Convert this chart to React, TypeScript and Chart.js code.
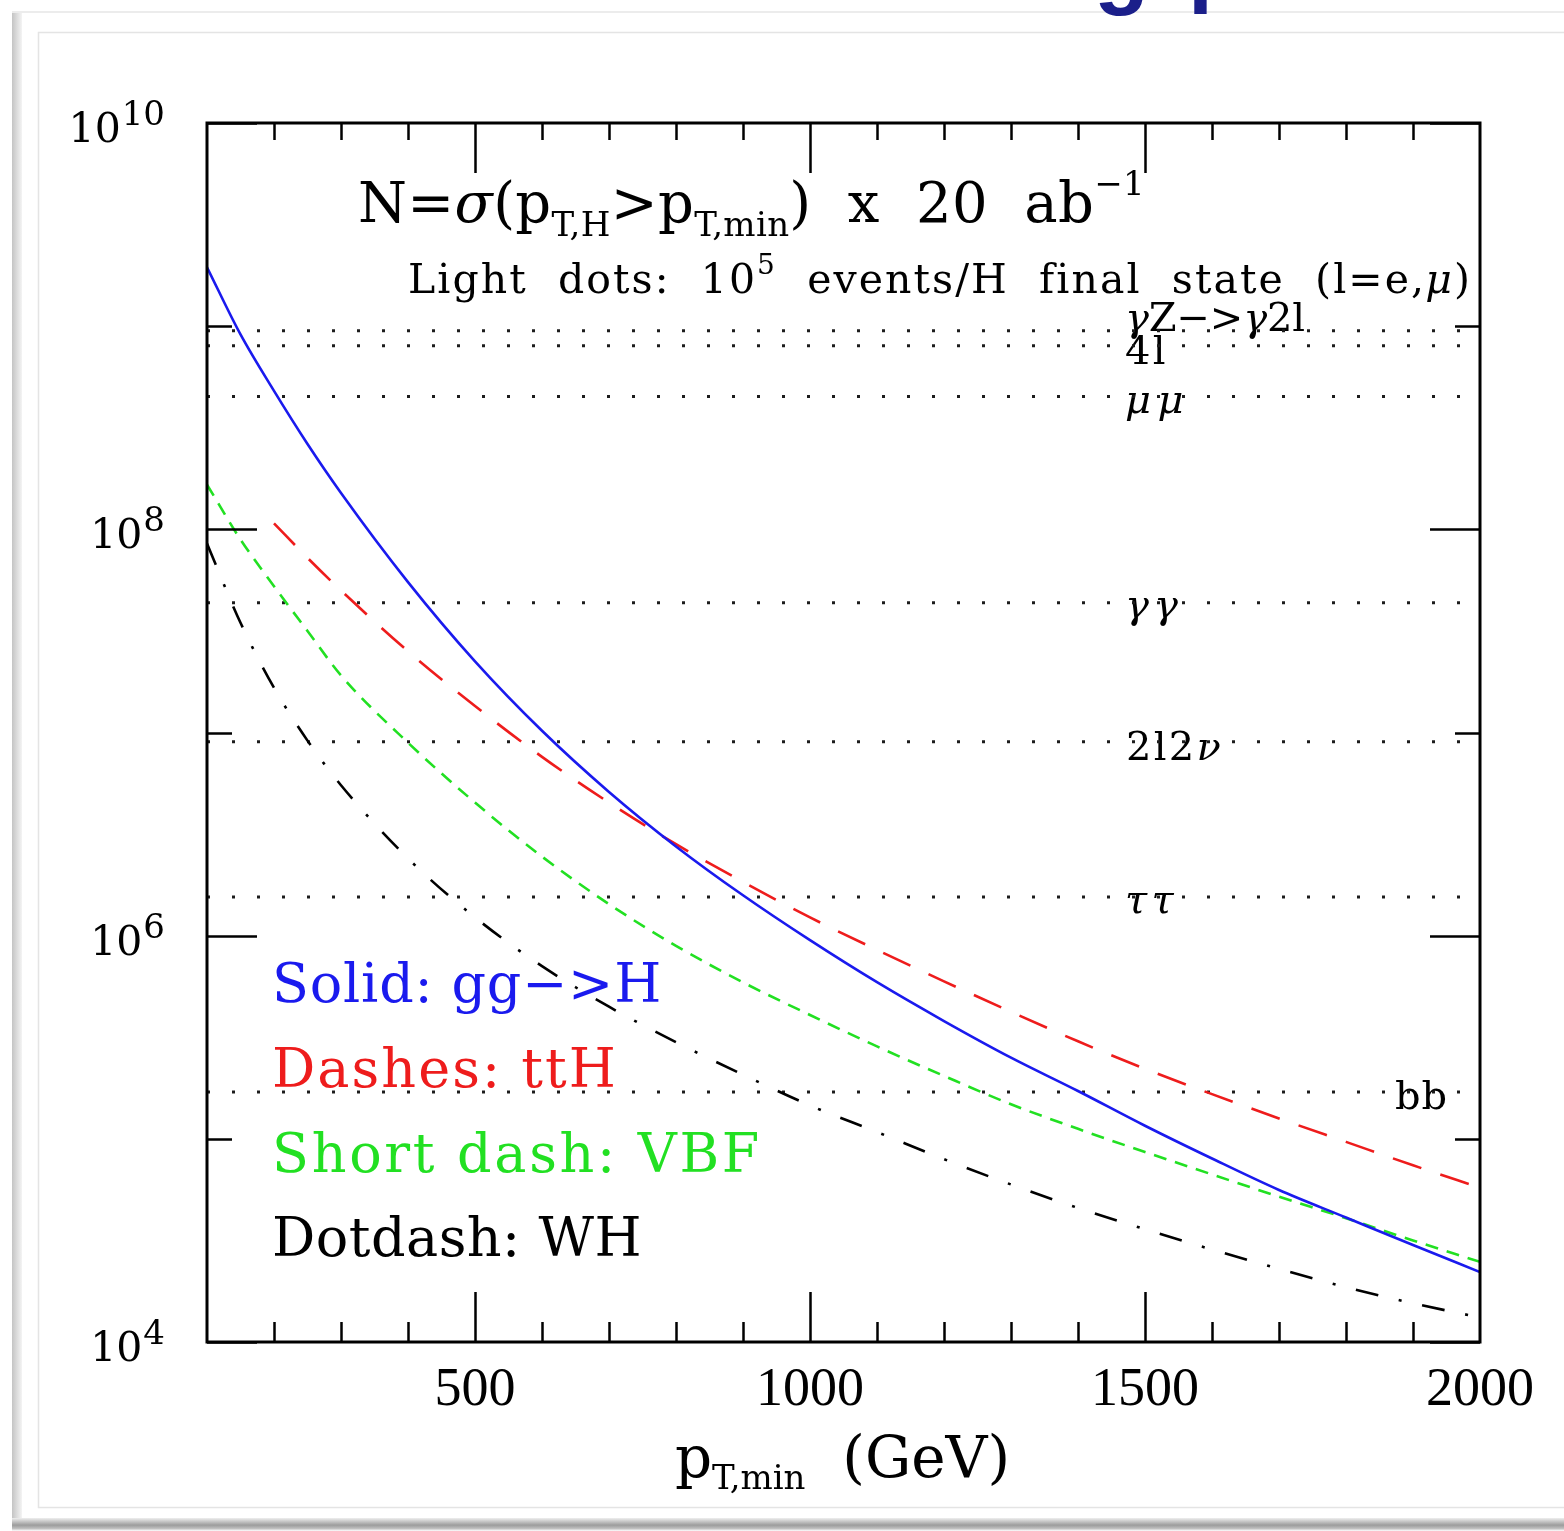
import React, { useEffect, useRef } from 'react';
import { Chart, registerables } from 'chart.js';
Chart.register(...registerables);

// ---------------- data ----------------
const pT = [100, 150, 200, 250, 300, 400, 500, 600, 700, 800, 900, 1000, 1100, 1200, 1300, 1400, 1500, 1600, 1700, 1800, 1900, 2000];
const ggH = [1.95e9, 9.1e8, 4.8e8, 2.63e8, 1.51e8, 5.5e7, 2.24e7, 1.02e7, 5.1e6, 2.75e6, 1.58e6, 9.5e5, 5.9e5, 3.8e5, 2.51e5, 1.72e5, 1.16e5, 8.0e4, 5.6e4, 4.1e4, 3.0e4, 2.21e4];
const ttH = [null, null, 1.07e8, 7.24e7, 5.0e7, 2.51e7, 1.35e7, 7.59e6, 4.52e6, 2.82e6, 1.84e6, 1.23e6, 8.51e5, 5.96e5, 4.22e5, 3.02e5, 2.21e5, 1.66e5, 1.26e5, 9.66e4, 7.41e4, 5.75e4];
const VBF = [1.66e8, 8.91e7, 5.25e7, 3.16e7, 1.91e7, 8.91e6, 4.52e6, 2.45e6, 1.43e6, 8.91e5, 5.89e5, 4.07e5, 2.85e5, 2.04e5, 1.48e5, 1.12e5, 8.61e4, 6.68e4, 5.19e4, 4.07e4, 3.16e4, 2.48e4];
const WH = [8.51e7, 3.47e7, 1.66e7, 9.12e6, 5.5e6, 2.4e6, 1.23e6, 7.08e5, 4.47e5, 2.99e5, 2.07e5, 1.46e5, 1.08e5, 7.94e4, 5.96e4, 4.57e4, 3.59e4, 2.85e4, 2.29e4, 1.86e4, 1.55e4, 1.32e4];

const legendTexts = ['Solid: gg−>H', 'Dashes: ttH', 'Short dash: VBF', 'Dotdash: WH'];

const decayLabels = ['γZ−>γ2l', '4l', 'μμ', 'γγ', '2l2ν', 'ττ', 'bb'];
const decayLevels = [9.5e8, 8.0e8, 4.5e8, 4.35e7, 9.0e6, 1.55e6, 1.7e5];

const xMajorTicks = [500, 1000, 1500, 2000];
const xTickLabels = ['500', '1000', '1500', '2000'];
const yMajorExp = ['4', '6', '8', '10'];
const yMinorExp = ['5', '7', '9'];

// ---------------- styles ----------------
const BLUE = '#1a1aee';
const RED = '#ee1c1c';
const GREEN = '#22e022';
const BLACK = '#000000';
const SERIF = '"DejaVu Serif", serif';
const TIMES = '"Liberation Serif", serif';
const font = (px: number, it = false) => `${it ? 'italic ' : ''}${px}px ${SERIF}`;

// label layout (x position, baseline offset from its line, width)
const decayLabelX = [1125, 1125, 1125, 1125, 1126, 1125, 1395];
const decayLabelDy = [0, 18, 16, 15, 18, 16, 17];
const decayLabelW = [180, 43, 65, 58, 97, 53, 53];

type Seg = { t: string; f: string; dy?: number; c?: string };

function drawSegs(ctx: CanvasRenderingContext2D, segs: Seg[], x: number, y: number, target?: number, color = '#000') {
  ctx.save();
  ctx.textAlign = 'left';
  ctx.textBaseline = 'alphabetic';
  const a = ctx as any;
  const hasLS = 'letterSpacing' in a;
  if (hasLS) a.letterSpacing = '0px';
  let nat = 0;
  let n = 0;
  const widths = segs.map((s) => {
    ctx.font = s.f;
    const w = ctx.measureText(s.t).width;
    nat += w;
    n += [...s.t].length;
    return w;
  });
  let ls = 0;
  if (target && n > 0) ls = (target - nat) / n;
  let cx = x;
  segs.forEach((s, i) => {
    ctx.font = s.f;
    ctx.fillStyle = s.c || color;
    if (hasLS) a.letterSpacing = `${ls}px`;
    ctx.fillText(s.t, cx, y + (s.dy || 0));
    cx += widths[i] + ls * [...s.t].length;
  });
  if (hasLS) a.letterSpacing = '0px';
  ctx.restore();
}

function greekSegs(text: string, px: number): Seg[] {
  const segs: Seg[] = [];
  for (const ch of [...text]) {
    const it = 'γμντσ'.includes(ch);
    const f = font(px, it);
    const last = segs[segs.length - 1];
    if (last && last.f === f) last.t += ch;
    else segs.push({ t: ch, f });
  }
  return segs;
}

const pagePlugin = {
  id: 'page',
  beforeDraw(chart: any) {
    const ctx: CanvasRenderingContext2D = chart.ctx;
    const W = chart.width;
    ctx.save();
    ctx.fillStyle = '#ffffff';
    ctx.fillRect(0, 0, W, chart.height);
    // slide box with shadow
    const gl = ctx.createLinearGradient(12, 0, 22, 0);
    gl.addColorStop(0, '#c4c4c4');
    gl.addColorStop(1, '#f4f4f4');
    ctx.fillStyle = gl;
    ctx.fillRect(12, 12, 10, 1516);
    ctx.fillStyle = '#ececec';
    ctx.fillRect(12, 11, W - 12, 2);
    const gb = ctx.createLinearGradient(0, 1518, 0, 1531);
    gb.addColorStop(0, '#eeeeee');
    gb.addColorStop(0.55, '#9c9c9c');
    gb.addColorStop(0.8, '#bdbdbd');
    gb.addColorStop(1, '#ffffff');
    ctx.fillStyle = gb;
    ctx.fillRect(12, 1518, W - 12, 13);
    ctx.strokeStyle = '#e4e4e4';
    ctx.lineWidth = 1.5;
    ctx.strokeRect(38.5, 32.5, W, 1475);
    // cut-off slide title (only descenders visible)
    ctx.fillStyle = '#1b1f8a';
    ctx.font = 'bold 90px "Liberation Sans", sans-serif';
    ctx.fillText('g', 1094, -3);
    ctx.fillText('p', 1188, -5);
    ctx.restore();
  },
  beforeDatasetsDraw(chart: any) {
    const ctx: CanvasRenderingContext2D = chart.ctx;
    const ys = chart.scales.y;
    // heading
    drawSegs(ctx, [
      { t: 'N=', f: font(56) },
      { t: 'σ', f: font(56, true) },
      { t: '(p', f: font(56) },
      { t: 'T,H', f: font(34), dy: 14 },
      { t: '>p', f: font(56) },
      { t: 'T,min', f: font(34), dy: 14 },
      { t: ')  x  20  ab', f: font(56) },
      { t: '−1', f: font(34), dy: -27 },
    ], 358, 222, 787);
    drawSegs(ctx, [
      { t: 'Light  dots:  10', f: font(41) },
      { t: '5', f: font(28), dy: -19 },
      { t: '  events/H  final  state  (l=e,', f: font(41) },
      { t: 'μ', f: font(41, true) },
      { t: ')', f: font(41) },
    ], 408, 293, 1064);
    // decay channel labels
    decayLabels.forEach((lab, i) => {
      const y = ys.getPixelForValue(decayLevels[i]) + decayLabelDy[i];
      drawSegs(ctx, greekSegs(lab, 40), decayLabelX[i], y, decayLabelW[i]);
    });
    // legend texts
    const lcol = [BLUE, RED, GREEN, BLACK];
    const lbase = [1002, 1087, 1172, 1256];
    const ltarget = [390, 346, 490, 370];
    legendTexts.forEach((t, i) => {
      drawSegs(ctx, [{ t, f: font(54) }], 272, lbase[i], ltarget[i], lcol[i]);
    });
  },
  afterDatasetsDraw(chart: any) {
    const ctx: CanvasRenderingContext2D = chart.ctx;
    const { left, right, top, bottom } = chart.chartArea;
    const xs = chart.scales.x;
    const ys = chart.scales.y;
    ctx.save();
    ctx.strokeStyle = '#000';
    ctx.lineWidth = 2.5;
    ctx.beginPath();
    for (let v = 200; v < 2000; v += 100) {
      const x = Math.round(xs.getPixelForValue(v)) + 0.5;
      const major = xMajorTicks.includes(v);
      ctx.moveTo(x, bottom);
      ctx.lineTo(x, bottom - (major ? 50 : 20));
      ctx.moveTo(x, top);
      ctx.lineTo(x, top + (major ? 50 : 17));
    }
    const yTick = (e: string, len: number) => {
      const y = Math.round(ys.getPixelForValue(Math.pow(10, +e))) + 0.5;
      ctx.moveTo(left, y);
      ctx.lineTo(left + len, y);
      ctx.moveTo(right, y);
      ctx.lineTo(right - len, y);
    };
    yMajorExp.forEach((e) => yTick(e, 50));
    yMinorExp.forEach((e) => yTick(e, 25));
    ctx.stroke();
    ctx.lineWidth = 3;
    ctx.strokeRect(left, top, right - left, bottom - top);

    // x tick labels
    ctx.fillStyle = '#000';
    ctx.textAlign = 'center';
    ctx.textBaseline = 'alphabetic';
    ctx.font = `54px ${TIMES}`;
    xMajorTicks.forEach((v, i) => {
      ctx.fillText(xTickLabels[i], xs.getPixelForValue(v), 1405);
    });
    // y tick labels 10^n
    ctx.textAlign = 'right';
    yMajorExp.forEach((e) => {
      const y = ys.getPixelForValue(Math.pow(10, +e)) + 19;
      ctx.font = `34px ${SERIF}`;
      ctx.fillText(e, 165, y - 17);
      const w = ctx.measureText(e).width;
      ctx.font = `41px ${SERIF}`;
      ctx.fillText('10', 165 - w - 1, y);
    });
    ctx.restore();
    // x axis title
    drawSegs(ctx, [
      { t: 'p', f: font(58) },
      { t: 'T,min', f: font(34), dy: 12 },
      { t: '  (GeV)', f: font(58) },
    ], 675, 1477, 335);
  },
};

export default function App() {
  const ref = useRef<HTMLCanvasElement>(null);
  useEffect(() => {
    const canvas = ref.current;
    if (!canvas) return;
    const mk = (vals: (number | null)[]) =>
      pT.map((x, i) => ({ x, y: vals[i] })).filter((p) => p.y != null) as { x: number; y: number }[];
    const levelSets = decayLevels.map((v, i) => ({
      label: decayLabels[i],
      data: [{ x: pT[0], y: v }, { x: pT[pT.length - 1], y: v }],
      borderColor: '#1c1c1c',
      borderWidth: 3,
      borderDash: [3, 22],
      tension: 0,
    }));
    const chart = new Chart(canvas, {
      type: 'line',
      data: {
        datasets: [
          { label: 'gg->H', data: mk(ggH), borderColor: BLUE, borderWidth: 2.6, cubicInterpolationMode: 'monotone' },
          { label: 'ttH', data: mk(ttH), borderColor: RED, borderWidth: 2.6, borderDash: [30, 20], cubicInterpolationMode: 'monotone' },
          { label: 'VBF', data: mk(VBF), borderColor: GREEN, borderWidth: 2.6, borderDash: [13, 9], cubicInterpolationMode: 'monotone' },
          { label: 'WH', data: mk(WH), borderColor: BLACK, borderWidth: 2.6, borderDash: [23, 21, 3, 21], cubicInterpolationMode: 'monotone' },
          ...levelSets,
        ] as any,
      },
      options: {
        responsive: false,
        animation: false,
        devicePixelRatio: 1,
        layout: { padding: { left: 207, top: 123, right: 84, bottom: 189 } },
        plugins: { legend: { display: false }, tooltip: { enabled: false } },
        elements: { point: { radius: 0, hoverRadius: 0 } },
        scales: {
          x: { type: 'linear', min: 100, max: 2000, display: false },
          y: { type: 'logarithmic', min: 1e4, max: 1e10, display: false },
        },
      } as any,
      plugins: [pagePlugin],
    });
    return () => chart.destroy();
  }, []);
  return (
    <div style={{ position: 'absolute', left: 0, top: 0, width: 1564, height: 1531, background: '#fff' }}>
      <canvas ref={ref} width={1564} height={1531} style={{ display: 'block', width: 1564, height: 1531 }} />
    </div>
  );
}
